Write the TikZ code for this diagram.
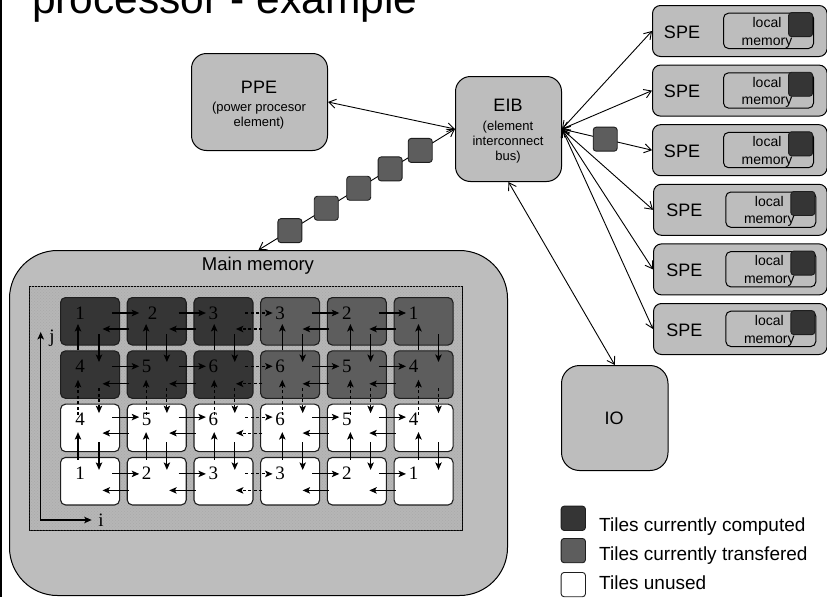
\documentclass[tikz,border=0pt]{standalone}
\usepackage{fontspec}
\setmainfont{Liberation Serif}
\setsansfont{Liberation Sans}
\usetikzlibrary{arrows.meta,calc,patterns}

\definecolor{boxgrey}{HTML}{BDBDBD}
\definecolor{fieldgrey}{HTML}{B6B6B6}
\definecolor{dotgrey}{HTML}{A9A9A9}
\definecolor{computed}{HTML}{353535}
\definecolor{transfer}{HTML}{5D5D5D}
\definecolor{edge}{HTML}{1E1E1E}

\begin{document}
\begin{tikzpicture}[x=1pt, y=-1pt,
  unit/.style={draw=black, line width=1pt, fill=boxgrey, inner sep=0pt, anchor=north west},
  tile/.style={draw=edge, line width=1.1pt, rounded corners=5pt, minimum width=59pt,
    minimum height=47.5pt, inner sep=0pt, anchor=north west},
  chip/.style={draw=edge, line width=0.9pt, rounded corners=3pt, minimum size=24pt,
    inner sep=0pt, fill=transfer},
  link/.style={line width=0.9pt,
    {Straight Barb[length=7pt,width=9pt]}-{Straight Barb[length=7pt,width=9pt]}},
  flow/.style={line width=1.1pt, -{Stealth[length=7.5pt,width=6.5pt,inset=1.8pt]}},
  hop/.style={flow, dash pattern=on 3pt off 2.5pt},
  axis/.style={line width=1.1pt,
    {Stealth[length=7.5pt,width=6.5pt,inset=1.8pt]}-{Stealth[length=7.5pt,width=6.5pt,inset=1.8pt]}},
  sans/.style={font={\sffamily\fontsize{#1}{#1}\selectfont}, inner sep=0pt},
  serif/.style={font={\rmfamily\fontsize{19}{20}\selectfont}, inner sep=0pt}
]
\useasboundingbox (0,0) rectangle (827,597);
\fill[white] (0,0) rectangle (827,597);
\draw[line width=1.2pt] (1,0) -- (1,597);

% title line
\node[sans=42.5, anchor=base west] (title) at (32,13.5) {processor - example};

% processor units
\node[unit, rounded corners=15pt, minimum width=136pt, minimum height=97pt] (ppe) at (191,53) {};
\node[sans=18] (ppe-name) at (259,87) {PPE};
\node[sans=13, anchor=base] (ppe-l1) at (259,111) {(power procesor};
\node[sans=13, anchor=base] (ppe-l2) at (259,126.5) {element)};

\node[unit, rounded corners=15pt, minimum width=106pt, minimum height=105pt] (eib) at (455,76) {};
\node[sans=18] (eib-name) at (508,105) {EIB};
\node[sans=13, anchor=base] (eib-l1) at (508,130) {(element};
\node[sans=13, anchor=base] (eib-l2) at (508,145) {interconnect};
\node[sans=13, anchor=base] (eib-l3) at (508,160.5) {bus)};

\node[unit, rounded corners=18pt, minimum width=106.5pt, minimum height=105pt] (io) at (561,365) {};
\node[sans=18] (io-name) at (614,418) {IO};

% synergistic elements with their local stores
\foreach \k in {1,...,6}{
  \pgfmathsetmacro{\ty}{5+59.6*(\k-1)}
  \pgfmathsetmacro{\sx}{\k>3 ? 2.3 : 0}
  \pgfmathsetmacro{\bx}{\k>3 ? 653 : 652}
  \pgfmathsetmacro{\bw}{826.6-\bx}
  \node[unit, rounded corners=8pt, minimum width=\bw pt, minimum height=51pt] (spe\k) at (\bx,\ty) {};
  \node[unit, rounded corners=5pt, minimum width=90pt, minimum height=35.3pt] (lm\k) at (723+\sx,\ty+7.7) {};
  \node[chip, fill=computed, anchor=north east] (lmtile\k) at (813+\sx,\ty+7.2) {};
  \node[sans=18] (spe\k-name) at (682+\sx,\ty+27) {SPE};
  \node[sans=14, anchor=base] (lm\k-a) at (767+\sx,\ty+22.5) {local};
  \node[sans=14, anchor=base] (lm\k-b) at (767+\sx,\ty+40) {memory};
}

% main memory with the tiled field
\node[unit, rounded corners=48pt, minimum width=498pt, minimum height=345pt] (mm) at (9,250) {};
\node[sans=18.5] (mm-name) at (258,266) {Main memory};
\node[draw=black, line width=1.3pt, fill=fieldgrey, anchor=north west, inner sep=0pt,
  minimum width=433pt, minimum height=244pt,
  postaction={pattern=crosshatch dots, pattern color=dotgrey}] (field) at (28.5,285.5) {};

\foreach \r/\la/\lb/\base in {1/computed/transfer/0, 2/computed/transfer/3, 3/white/white/3, 4/white/white/0}{
  \foreach \c in {1,...,6}{
    \pgfmathsetmacro{\tx}{60+66.7*(\c-1)}
    \pgfmathsetmacro{\ty}{297+53.3*(\r-1)}
    \pgfmathtruncatemacro{\num}{\base + (\c<4 ? \c : 7-\c)}
    \pgfmathsetmacro{\nx}{(\r==1 && \c==2) ? 26 : 20}
    \ifnum\c<4 \def\fc{\la}\else\def\fc{\lb}\fi
    \node[tile, fill=\fc] (t-\r-\c) at (\tx,\ty) {};
    \node[serif] (n-\r-\c) at ($(t-\r-\c.north west)+(\nx,16)$) {\num};
  }
}

% sweeps between neighbouring tiles along i
\foreach \r/\ry/\ly in {1/16/32, 2/16/33.5, 3/13.5/29.5, 4/17/33.5}{
  \foreach \c in {1,...,5}{
    \pgfmathtruncatemacro{\nc}{\c+1}
    \ifnum\c=3 \tikzset{cur/.style={hop}}\else\tikzset{cur/.style={flow}}\fi
    \draw[cur] ($(t-\r-\c.north west)+(52,\ry)$) -- ($(t-\r-\nc.north west)+(12.5,\ry)$);
    \draw[cur] ($(t-\r-\nc.north west)+(2.3,\ly)$) -- ($(t-\r-\c.north west)+(42.5,\ly)$);
  }
}

% sweeps between neighbouring tiles along j
\foreach \r/\us/\ut/\ds/\dt in {1/0/27/37/11.7, 2/11.5/29.5/37.7/9.5, 3/3/28.5/38.4/13}{
  \pgfmathtruncatemacro{\rr}{\r+1}
  \ifnum\r=2 \tikzset{cur/.style={hop}}\else\tikzset{cur/.style={flow}}\fi
  \foreach \c in {1,...,6}{
    \pgfmathsetmacro{\ux}{18+1.4*(\c-1)}
    \pgfmathsetmacro{\dx}{39+1.2*(\c-1)}
    \draw[cur] ($(t-\rr-\c.north west)+(\ux,\us)$) -- ($(t-\r-\c.north west)+(\ux,\ut)$);
    \draw[cur] ($(t-\r-\c.north west)+(\dx,\ds)$) -- ($(t-\rr-\c.north west)+(\dx,\dt)$);
  }
}

% index axes
\coordinate (origin) at (40.7,520);
\coordinate (jtip) at (40.7,332);
\coordinate (itip) at (91.7,520);
\draw[axis] (jtip) -- (origin) -- (itip);
\node[serif, anchor=base] (jlab) at (52,342.6) {j};
\node[serif, anchor=base] (ilab) at (101,526) {i};

% interconnect
\draw[link] (ppe.east) -- (eib.west);
\draw[link] (eib.west) -- node[chip, pos=.177] (c1) {} node[chip, pos=.33] (c2) {}
  node[chip, pos=.49] (c3) {} node[chip, pos=.655] (c4) {} node[chip, pos=.84] (c5) {} (mm.north);
\draw[link] (eib.south) -- (io.north);
\foreach \k in {1,2,4,5,6}{
  \draw[link] (eib.east) -- (spe\k.west);
}
\draw[link] (eib.east) -- node[chip, pos=.48] (spetile) {} (spe3.west);

% key
\node[chip, fill=computed, anchor=north west, minimum size=24.3pt] (key1) at (560.7,505.7) {};
\node[chip, fill=transfer, anchor=north west, minimum size=24.3pt] (key2) at (560.7,538) {};
\node[chip, fill=white, anchor=north west, minimum size=24.3pt] (key3) at (560.7,572) {};
\node[sans=19, anchor=base west] (key1-text) at (599,531.7) {Tiles currently computed};
\node[sans=19, anchor=base west] (key2-text) at (599,560.5) {Tiles currently transfered};
\node[sans=19, anchor=base west] (key3-text) at (599,589.5) {Tiles unused};
\end{tikzpicture}
\end{document}
